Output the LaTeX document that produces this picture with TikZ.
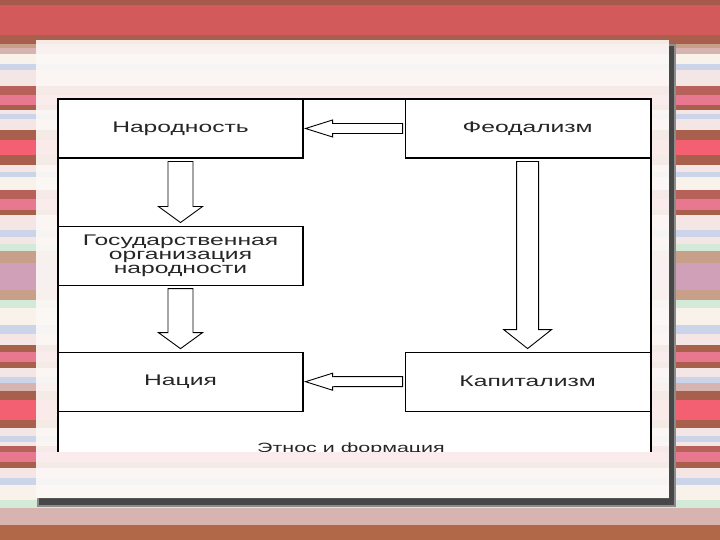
\documentclass[tikz,border=0pt]{standalone}
\usepackage{fontspec}
\setmainfont{Liberation Sans}[FakeStretch=1.6]
\usetikzlibrary{
	positioning,
	calc
}

\definecolor{stdark}{HTML}{A55A4C}
\definecolor{stred}{HTML}{D25A5A}
\definecolor{stbrown}{HTML}{A8604C}
\definecolor{stbrownred}{HTML}{B8605A}
\definecolor{sttan}{HTML}{C8A08A}
\definecolor{stgray}{HTML}{D8B4B0}
\definecolor{stcream}{HTML}{F8F2EA}
\definecolor{stblue}{HTML}{CCD4EA}
\definecolor{stpale}{HTML}{F5E6E6}
\definecolor{stpink}{HTML}{E87890}
\definecolor{stbright}{HTML}{F26072}
\definecolor{stmint}{HTML}{D4EAD8}
\definecolor{stmauve}{HTML}{D0A0B8}
\definecolor{storange}{HTML}{B06848}
\definecolor{panelwhite}{HTML}{FCF8F6}

% horizontal stripes of the slide background
\newcommand\drawstripes{%
	\foreach \ya/\yb/\c in {0/5/stdark, 5/35/stred, 35/44/stbrown, 44/48/sttan,
		48/54/stgray, 54/64/stcream, 64/70/stblue, 70/86/stpale, 86/95/stbrownred,
		95/105/stpink, 105/110/stbrown, 110/114/stpale, 114/119/stblue,
		119/130/stpale, 130/140/stbrown, 140/155/stbright, 155/165/stbrown,
		165/172/stpale, 172/177/stblue, 177/190/stcream, 190/199/stbrownred,
		199/210/stpink, 210/215/stbrown, 215/230/stpale, 230/237/stblue,
		237/244/stpale, 244/251/stmint, 251/263/sttan, 263/290/stmauve,
		290/300/sttan, 300/308/stmint, 308/325/stcream, 325/334/stblue,
		334/345/stpale, 345/352/stbrown, 352/362/stpink, 362/368/stbrown,
		368/377/stpale, 377/383/stblue, 383/391/stgray, 391/400/stbrown,
		400/420/stbright, 420/428/stbrown, 428/436/stpale, 436/442/stblue,
		442/446/stpale, 446/452/stbrownred, 452/462/stpink, 462/468/stbrown,
		468/478/stpale, 478/485/stblue, 485/500/stcream, 500/508/stmint,
		508/525/stgray, 525/540/storange}
	\fill[\c] (0,\ya) rectangle (720,\yb);%
}

% hollow block arrow pointing down: from, to, shaft half, head half, head length
\newcommand\blockdown[5]{%
	\draw[blockarrow] ($(#1.south)+(-#3,3)$) -- ($(#1.south)+(#3,3)$)
		-- ($(#2.north)+(#3,-#5-3)$) -- ($(#2.north)+(#4,-#5-3)$)
		-- ($(#2.north)+(0,-3)$) -- ($(#2.north)+(-#4,-#5-3)$)
		-- ($(#2.north)+(-#3,-#5-3)$) -- cycle;%
}
% hollow block arrow pointing left
\newcommand\blockleft[5]{%
	\draw[blockarrow] ($(#1.west)+(-2,-#3)$) -- ($(#2.east)+(#5+2,-#3)$)
		-- ($(#2.east)+(#5+2,-#4)$) -- ($(#2.east)+(2,0)$)
		-- ($(#2.east)+(#5+2,#4)$) -- ($(#2.east)+(#5+2,#3)$)
		-- ($(#1.west)+(-2,#3)$) -- cycle;%
}

\begin{document}
\begin{tikzpicture}[
	x=1pt, y=-1pt,
	node distance =0pt,
	box/.style = {
		rectangle,
		draw,
		line width=1.1pt,
		minimum width=245pt,
		minimum height=59pt,
		inner sep=0pt,
		align=center,
		text=black!85,
		font=\fontsize{15.4}{14}\selectfont
	},
	blockarrow/.style = {
		draw,
		line width=0.9pt,
		fill=white
	},
]
	\useasboundingbox (0,0) rectangle (720,540);
	\drawstripes

	% slide panel with its shadow
	\fill[black!45] (37,44) rectangle (676,507);
	\fill[black!72] (39,46) rectangle (674,505);
	\fill[panelwhite] (36,40) rectangle (669,498);
	\begin{scope}[opacity=0.09]
		\clip (36,40) rectangle (669,498);
		\drawstripes
	\end{scope}

	% picture area, cut off at the bottom
	\fill[white] (58,99) rectangle (651,452);
	\draw[line width=1.1pt] (58,452) -- (58,99) -- (651,99) -- (651,452);

	\node (narod) [box] at (180.5,128.5) {Народность};
	\node (feod) [box, right=101pt of narod] {Феодализм};
	\node (gos) [box, below=67pt of narod] {Государственная\\организация\\народности};
	\node (nacia) [box, below=66pt of gos] {Нация};
	\node (kapit) [box, below=193pt of feod] {Капитализм};

	\blockleft{feod}{narod}{5}{8.5}{27}
	\blockdown{narod}{gos}{12.5}{22}{16}
	\blockdown{gos}{nacia}{12.5}{22}{16}
	\blockdown{feod}{kapit}{11}{24}{19}
	\blockleft{kapit}{nacia}{5}{8.5}{27}

	\begin{scope}
		\clip (58,99) rectangle (651,451);
		\node (caption) [anchor=base, text=black!85, font=\fontsize{13.4}{14}\selectfont] at (351,452) {Этнос и формация};
	\end{scope}
\end{tikzpicture}
\end{document}
